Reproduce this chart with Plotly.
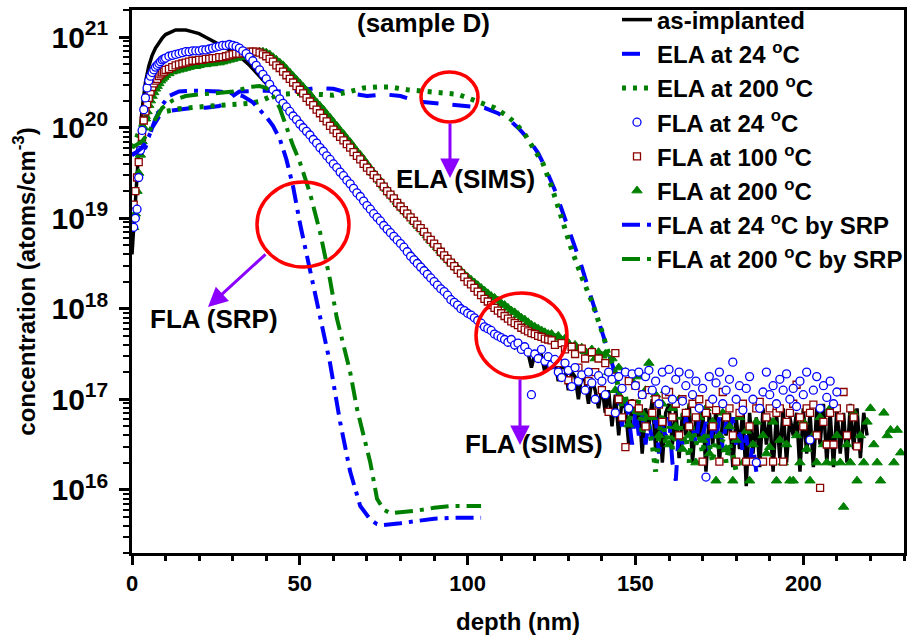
import plotly.graph_objects as go

# ---------------- data (log10 of concentration, atoms/cm^3) ----------------
# as-implanted (SIMS), depth 0..219 nm step 1
asimp_depth = list(range(0, 220))
asimp_log = [18.6, 19.2, 19.75, 20.2, 20.5, 20.68, 20.8, 20.88, 20.94, 20.99,
             21.03, 21.05, 21.07, 21.08, 21.08, 21.08, 21.08, 21.07, 21.06, 21.05,
             21.04, 21.02, 21.0, 20.98, 20.96, 20.94, 20.93, 20.91, 20.89, 20.87,
             20.85, 20.82, 20.79, 20.76, 20.73, 20.69, 20.65, 20.61, 20.57, 20.53,
             20.49, 20.45, 20.41, 20.37, 20.33, 20.29, 20.25, 20.21, 20.17, 20.12,
             20.08, 20.04, 19.99, 19.95, 19.9, 19.86, 19.81, 19.77, 19.72, 19.68,
             19.63, 19.59, 19.54, 19.5, 19.45, 19.41, 19.36, 19.31, 19.27, 19.22,
             19.17, 19.13, 19.08, 19.04, 19.0, 18.95, 18.91, 18.87, 18.83, 18.79,
             18.75, 18.71, 18.66, 18.62, 18.58, 18.54, 18.5, 18.46, 18.42, 18.37,
             18.33, 18.29, 18.26, 18.22, 18.18, 18.14, 18.1, 18.07, 18.03, 18.0,
             17.97, 17.94, 17.91, 17.88, 17.85, 17.82, 17.79, 17.76, 17.73, 17.7,
             17.67, 17.64, 17.6, 17.62, 17.57, 17.59, 17.54, 17.56, 17.51, 17.35,
             17.5, 17.46, 17.48, 17.3, 17.45, 17.4, 17.42, 17.2, 17.38, 17.35,
             17.1, 17.3, 17.25, 17.0, 17.28, 17.2, 16.95, 17.22, 17.1, 16.9,
             17.15, 16.85, 17.1, 16.7, 17.05, 16.6, 17.0, 16.9, 16.5, 17.0,
             16.75, 16.95, 16.4, 16.9, 16.7, 17.0, 16.45, 16.9, 16.3, 16.85,
             16.95, 16.5, 16.9, 16.35, 16.85, 16.6, 16.95, 16.3, 16.8, 16.55,
             16.9, 16.2, 16.85, 16.5, 16.9, 16.3, 16.8, 16.6, 16.85, 16.25,
             16.8, 16.45, 16.9, 16.04, 16.85, 16.4, 16.8, 16.25, 16.9, 16.5,
             16.8, 16.2, 16.85, 16.35, 16.9, 16.3, 16.8, 16.6, 16.85, 16.2,
             16.9, 16.4, 16.85, 16.25, 16.9, 16.5, 16.95, 16.3, 16.85, 16.25,
             16.9, 16.4, 16.85, 16.3, 16.95, 16.45, 16.9, 16.35, 16.85, 16.6]

# ELA at 24 C (SIMS)
ela24_depth = [0, 2, 4, 6, 8, 10, 14, 18, 22, 26, 28, 30, 32, 36, 40, 45, 50, 55, 60, 65,
               70, 75, 80, 85, 90, 95, 100, 105, 109, 112, 115, 118, 121, 123, 126, 129.6,
               133.5, 137, 140.3, 143.3,
               144, 145, 146, 147, 148, 149, 150, 151, 152, 153, 154, 155, 156, 157, 158,
               159, 160, 161, 162, 163, 164, 165, 166, 167, 168, 169, 170, 171, 172, 173,
               174, 175, 176, 177, 178, 179, 180, 181, 182, 183, 184, 185, 186]
ela24_log = [19.7, 19.74, 19.78, 20.0, 20.12, 20.18, 20.2, 20.22, 20.22, 20.24, 20.28,
             20.35, 20.4, 20.41, 20.41, 20.4, 20.41, 20.44, 20.43, 20.38,
             20.35, 20.37, 20.35, 20.29, 20.27, 20.25, 20.23, 20.22, 20.16, 20.1, 20.0,
             19.88, 19.72, 19.57, 19.31, 18.93, 18.52, 18.1, 17.71, 17.36,
             17.2, 17.0, 16.7, 17.0, 16.8, 16.5, 16.9, 16.6, 16.85, 16.5, 16.75, 16.55,
             16.8, 16.4, 16.7, 16.6, 16.8, 16.3, 16.1, 16.7, 16.5, 16.8, 16.6, 16.7,
             16.5, 16.8, 16.6, 16.75, 16.4, 16.7, 16.55, 16.8, 16.45, 16.75, 16.6, 16.8,
             16.5, 16.7, 16.4, 16.6, 16.3, 16.5, 16.2]

# ELA at 200 C (SIMS)
ela200_depth = [0, 1, 2, 3, 4, 6, 10, 14, 20, 25, 30, 35, 38, 41, 44, 47, 50, 55, 60, 65,
                69, 73, 77, 82, 87, 92, 97, 100, 104, 108, 111, 114, 117, 120, 122.5, 125,
                128, 131, 134, 137, 140, 142, 144,
                145, 146, 147, 148, 149, 150, 151, 152, 153, 154, 155, 156, 157, 158, 159,
                160, 161, 162, 163, 164, 165, 166, 167, 168, 169, 170, 171, 172, 173, 174,
                175, 176, 177, 178, 179, 180]
ela200_log = [19.78, 19.85, 19.95, 20.05, 20.1, 20.14, 20.18, 20.21, 20.23, 20.24, 20.25,
              20.27, 20.29, 20.34, 20.37, 20.38, 20.38, 20.37, 20.36, 20.4,
              20.44, 20.45, 20.45, 20.42, 20.4, 20.39, 20.37, 20.33, 20.28, 20.22, 20.15,
              20.06, 19.93, 19.76, 19.6, 19.35, 19.0, 18.65, 18.35, 18.08, 17.75, 17.5,
              17.3,
              17.1, 16.9, 17.05, 16.72, 16.95, 16.8, 17.0, 16.6, 16.85, 16.7, 16.5, 16.2,
              16.6, 16.85, 16.5, 16.7, 16.45, 16.65, 16.8, 16.5, 16.6, 16.3, 16.7, 16.5,
              16.6, 16.4, 16.65, 16.5, 16.3, 16.6, 16.45, 16.55, 16.3, 16.5, 16.4, 16.2]

# FLA (SIMS): depth grid 0.5..10 step 0.5 then 1 nm
surface_depth = [0.5 * i for i in range(1, 21)]
fla24_depth = surface_depth + list(range(11, 211))
fla24_log = [18.9, 19.0, 19.1, 19.45, 19.75, 19.97, 20.2, 20.33, 20.44, 20.52,
             20.57, 20.61, 20.64, 20.67, 20.69, 20.71, 20.73, 20.75, 20.76, 20.77,
             20.79, 20.8, 20.81, 20.82, 20.83, 20.84, 20.84, 20.85, 20.85, 20.85,
             20.86, 20.86, 20.87, 20.88, 20.89, 20.9, 20.91, 20.91, 20.92, 20.91,
             20.9, 20.88, 20.85, 20.82, 20.78, 20.74, 20.69, 20.64, 20.59, 20.54,
             20.48, 20.42, 20.37, 20.32, 20.27, 20.23, 20.18, 20.13, 20.09, 20.04,
             20.0, 19.96, 19.92, 19.87, 19.83, 19.78, 19.74, 19.69, 19.65, 19.6,
             19.56, 19.51, 19.47, 19.42, 19.38, 19.33, 19.28, 19.24, 19.19, 19.14,
             19.1, 19.05, 19.01, 18.97, 18.92, 18.88, 18.84, 18.8, 18.76, 18.72,
             18.68, 18.63, 18.58, 18.54, 18.5, 18.46, 18.42, 18.38, 18.34, 18.3,
             18.26, 18.22, 18.19, 18.15, 18.1, 18.07, 18.04, 18.0, 17.98, 17.95,
             17.93, 17.9, 17.87, 17.84, 17.8, 17.78, 17.76, 17.72, 17.7, 17.68,
             17.66, 17.63, 17.66, 17.6, 17.62, 17.55, 17.58, 17.52, 17.05, 17.5,
             17.45, 17.55, 17.42, 17.47, 17.38, 17.44, 17.3, 17.24, 17.4, 17.32,
             17.14, 17.35, 17.2, 17.27, 17.1, 17.3, 17.18, 17.0, 17.26, 17.2,
             17.05, 17.3, 17.22, 16.85, 17.25, 17.12, 17.3, 16.9, 17.28, 17.15,
             17.3, 17.05, 17.25, 17.32, 17.1, 17.2, 16.95, 17.3, 17.1, 17.33,
             17.0, 17.22, 17.3, 16.98, 17.15, 17.28, 17.05, 17.2, 16.9, 17.12,
             16.14, 17.25, 17.0, 17.18, 17.3, 16.95, 17.1, 17.22, 17.41, 17.0,
             17.15, 16.88, 17.12, 17.25, 17.0, 16.3, 16.9, 17.08, 17.3, 17.05,
             17.15, 16.95, 17.22, 17.1, 17.28, 17.0, 17.12, 16.92, 17.2, 17.05,
             17.3, 16.55, 17.1, 17.25, 16.9, 17.15, 17.02, 17.2, 16.95, 17.08]

fla100_depth = surface_depth + list(range(11, 217))
fla100_log = [19.15, 19.3, 19.45, 19.62, 19.78, 19.9, 20.08, 20.18, 20.26, 20.33,
              20.4, 20.45, 20.49, 20.52, 20.54, 20.57, 20.59, 20.61, 20.62, 20.64,
              20.65, 20.67, 20.69, 20.7, 20.71, 20.72, 20.73, 20.74, 20.74, 20.75,
              20.75, 20.76, 20.76, 20.77, 20.77, 20.78, 20.78, 20.79, 20.8, 20.81,
              20.82, 20.82, 20.83, 20.83, 20.84, 20.84, 20.84, 20.83, 20.81, 20.79,
              20.76, 20.73, 20.69, 20.66, 20.62, 20.58, 20.54, 20.5, 20.46, 20.42,
              20.38, 20.33, 20.29, 20.25, 20.2, 20.16, 20.11, 20.07, 20.02, 19.98,
              19.94, 19.9, 19.86, 19.82, 19.78, 19.73, 19.69, 19.65, 19.6, 19.56,
              19.52, 19.48, 19.44, 19.39, 19.35, 19.3, 19.26, 19.22, 19.17, 19.13,
              19.09, 19.05, 19.01, 18.97, 18.93, 18.89, 18.85, 18.8, 18.76, 18.72,
              18.68, 18.63, 18.59, 18.55, 18.51, 18.47, 18.43, 18.39, 18.35, 18.3,
              18.27, 18.23, 18.19, 18.15, 18.11, 18.08, 18.04, 18.01, 17.98, 17.95,
              17.92, 17.89, 17.86, 17.84, 17.82, 17.79, 17.77, 17.75, 17.73, 17.72,
              17.7, 17.69, 17.67, 17.66, 17.65,
              17.6, 17.4, 17.62, 17.55, 17.21, 17.58, 17.5, 17.35, 17.56, 17.45,
              17.2, 17.52, 17.3, 17.45, 17.1, 17.4, 16.86, 17.25, 17.51, 17.0,
              16.8, 16.47, 17.2, 16.95, 17.15, 16.9, 17.05, 16.7, 17.1, 16.85,
              17.0, 16.94, 16.75, 17.05, 17.08, 16.8, 16.95, 16.6, 17.0, 16.85,
              16.7, 16.95, 16.8, 17.0, 16.31, 16.85, 16.95, 16.7, 16.88, 16.31,
              17.08, 16.8, 16.9, 16.6, 16.31, 16.85, 16.95, 16.31, 16.7, 16.31,
              16.9, 16.97, 16.31, 16.8, 16.9, 16.31, 16.85, 16.9, 16.31, 16.75,
              16.85, 16.95, 17.16, 16.8, 16.7, 16.9, 16.85, 16.94, 16.6, 16.02,
              16.75, 16.5, 16.85, 16.5, 16.9, 16.8, 17.08, 16.6, 16.9, 16.8,
              16.48]

fla200_depth = surface_depth + list(range(11, 230))
fla200_log = [18.9, 19.05, 19.3, 19.5, 19.7, 19.85, 20.0, 20.1, 20.18, 20.25,
              20.3, 20.35, 20.39, 20.43, 20.46, 20.49, 20.52, 20.54, 20.56, 20.58,
              20.6, 20.62, 20.63, 20.64, 20.65, 20.66, 20.67, 20.68, 20.68, 20.69,
              20.7, 20.7, 20.71, 20.71, 20.72, 20.72, 20.73, 20.74, 20.75, 20.76,
              20.77, 20.78, 20.79, 20.8, 20.81, 20.82, 20.83, 20.84, 20.84, 20.83,
              20.81, 20.78, 20.75, 20.72, 20.69, 20.65, 20.61, 20.57, 20.53, 20.49,
              20.45, 20.41, 20.37, 20.32, 20.28, 20.24, 20.2, 20.15, 20.11, 20.06,
              20.02, 19.97, 19.93, 19.88, 19.84, 19.79, 19.74, 19.7, 19.65, 19.6,
              19.55, 19.5, 19.46, 19.41, 19.36, 19.32, 19.27, 19.23, 19.18, 19.14,
              19.1, 19.06, 19.02, 18.97, 18.93, 18.89, 18.85, 18.81, 18.76, 18.72,
              18.68, 18.64, 18.6, 18.56, 18.52, 18.49, 18.45, 18.42, 18.38, 18.35,
              18.32, 18.29, 18.26, 18.23, 18.2, 18.17, 18.14, 18.12, 18.09, 18.06,
              18.04, 18.01, 17.98, 17.96, 17.93, 17.9, 17.88, 17.85, 17.82, 17.8,
              17.78, 17.76, 17.74, 17.72, 17.72, 17.68, 17.7, 17.65, 17.67, 17.62,
              17.58, 17.6, 17.55, 17.57, 17.53, 17.5, 17.55, 17.45, 17.52, 17.48,
              17.5, 17.3, 17.45, 17.1, 17.35, 17.0, 17.3, 16.72, 17.2, 16.9,
              17.25, 16.85, 17.1, 17.4, 16.8, 17.05, 16.6, 16.95, 17.1, 16.5,
              16.9, 16.7, 17.0, 16.45, 16.85, 16.6, 16.95, 16.3, 16.8, 16.55,
              16.9, 16.4, 16.75, 16.1, 16.6, 16.85, 16.45, 16.7, 16.1, 16.55,
              16.8, 16.3, 16.65, 16.1, 16.5, 16.75, 16.3, 16.6, 16.4, 16.47,
              16.75, 16.1, 16.55, 16.3, 16.5, 16.1, 16.1, 16.6, 16.3, 16.75,
              16.45, 16.1, 16.6, 16.3, 16.8, 16.5, 16.3, 16.9, 16.3, 16.6,
              16.3, 15.81, 16.5, 16.3, 16.85, 16.1, 16.6, 16.3, 16.75, 16.9,
              16.5, 16.3, 16.1, 16.85, 16.6, 16.66, 16.3, 16.66, 16.41]

# FLA by SRP
srp24_depth = [0, 1, 3, 5, 7, 9, 11, 14, 18, 22, 26, 30, 33, 36, 38, 40, 42, 44, 46, 48,
               50, 52, 55, 59, 62, 65, 68, 71, 73, 75, 80, 85, 90, 95, 100, 104]
srp24_log = [19.7, 19.72, 19.78, 19.9, 20.1, 20.25, 20.35, 20.4, 20.41, 20.41, 20.4,
             20.38, 20.35, 20.28, 20.2, 20.12, 20.02, 19.88, 19.65, 19.35,
             18.95, 18.6, 18.1, 17.4, 16.75, 16.2, 15.82, 15.67, 15.62, 15.61,
             15.63, 15.66, 15.68, 15.69, 15.69, 15.69]
srp200_depth = [0, 1, 3, 5, 7, 9, 12, 16, 20, 25, 30, 35, 38, 40, 42, 44, 46, 48, 50, 53,
                56, 59, 61, 63, 65, 67, 69, 71, 73, 75, 77, 80, 85, 90, 95, 100, 104]
srp200_log = [19.78, 19.8, 19.85, 19.95, 20.1, 20.22, 20.3, 20.35, 20.37, 20.38, 20.4,
              20.45, 20.46, 20.44, 20.35, 20.22, 20.0, 19.8, 19.62, 19.28,
              18.85, 18.32, 17.9, 17.6, 17.3, 16.9, 16.6, 16.3, 15.9, 15.78,
              15.74, 15.75, 15.77, 15.8, 15.82, 15.82, 15.82]

def conc(logs):
    return [10 ** v for v in logs]

FONT = "Liberation Sans, Arial, sans-serif"
BLUE = "#0000ff"
GREEN = "#008000"
DRED = "#8b0000"
VIOLET = "#8b00ff"

fig = go.Figure()

fig.add_trace(go.Scatter(x=asimp_depth, y=conc(asimp_log), mode="lines",
                         name="as-implanted", line=dict(color="black", width=3.5),
                         legendrank=1, legendgroup="a"))
fig.add_trace(go.Scatter(x=ela24_depth, y=conc(ela24_log), mode="lines",
                         name="ELA at 24 <sup>o</sup>C",
                         line=dict(color=BLUE, width=4, dash="18px,14px"),
                         legendrank=2, legendgroup="b"))
fig.add_trace(go.Scatter(x=ela200_depth, y=conc(ela200_log), mode="lines",
                         name="ELA at 200 <sup>o</sup>C",
                         line=dict(color=GREEN, width=5, dash="4px,7px"),
                         legendrank=3, legendgroup="c"))
fig.add_trace(go.Scatter(x=fla200_depth, y=conc(fla200_log), mode="markers",
                         name="FLA at 200 <sup>o</sup>C",
                         marker=dict(symbol="triangle-up", size=9, color=GREEN,
                                     line=dict(color=GREEN, width=1)),
                         legendrank=6, legendgroup="f"))
fig.add_trace(go.Scatter(x=fla100_depth, y=conc(fla100_log), mode="markers",
                         name="FLA at 100 <sup>o</sup>C",
                         marker=dict(symbol="square", size=7, color="white",
                                     line=dict(color=DRED, width=1.3)),
                         legendrank=5, legendgroup="e"))
fig.add_trace(go.Scatter(x=fla24_depth, y=conc(fla24_log), mode="markers",
                         name="FLA at 24 <sup>o</sup>C",
                         marker=dict(symbol="circle", size=8, color="white",
                                     line=dict(color=BLUE, width=1.3)),
                         legendrank=4, legendgroup="d"))
fig.add_trace(go.Scatter(x=srp24_depth, y=conc(srp24_log), mode="lines",
                         name="FLA at 24 <sup>o</sup>C by SRP",
                         line=dict(color=BLUE, width=4, dash="18px,7px,4px,7px"),
                         legendrank=7, legendgroup="g"))
fig.add_trace(go.Scatter(x=srp200_depth, y=conc(srp200_log), mode="lines",
                         name="FLA at 200 <sup>o</sup>C by SRP",
                         line=dict(color=GREEN, width=4, dash="18px,7px,4px,7px"),
                         legendrank=8, legendgroup="h"))

# plot area in page pixels (body margin removed): left 132, right 904, top 10, bottom 553
PL, PR, PT, PB = 132, 904, 10, 553
W, H = 907, 642

def px(xp):
    return (xp - PL) / float(PR - PL)

def py(yp):
    return (PB - yp) / float(PB - PT)

shapes = []
for (x0, y0, x1, y1) in [(421, 72, 478, 122), (257, 182, 349, 267), (476, 293, 567, 378)]:
    shapes.append(dict(type="circle", xref="paper", yref="paper",
                       x0=px(x0), x1=px(x1), y0=py(y1), y1=py(y0),
                       line=dict(color="red", width=3.5)))

annotations = []
for (hx, hy, tx, ty) in [(450, 178, 450, 122), (208, 307, 267, 253), (520, 445, 520, 378)]:
    annotations.append(dict(xref="paper", yref="paper", x=px(hx), y=py(hy),
                            ax=tx - hx, ay=ty - hy, text="", showarrow=True,
                            arrowhead=2, arrowsize=1.3, arrowwidth=3,
                            arrowcolor=VIOLET))
for (txt, cx, cy) in [("(sample D)", 423, 23), ("ELA (SIMS)", 465, 179),
                      ("FLA (SRP)", 214, 319), ("FLA (SIMS)", 534, 444)]:
    annotations.append(dict(xref="paper", yref="paper", x=px(cx), y=py(cy),
                            text=txt, showarrow=False, xanchor="center", yanchor="middle",
                            font=dict(family=FONT, size=26, color="black", weight="bold")))

fig.update_layout(
    width=W, height=H,
    margin=dict(l=PL, r=W - PR, t=PT, b=H - PB, autoexpand=False),
    paper_bgcolor="white", plot_bgcolor="white",
    font=dict(family=FONT, color="black"),
    showlegend=True,
    hovermode=False,
    legend=dict(x=px(617), y=py(-2.5), xanchor="left", yanchor="top",
                bgcolor="rgba(0,0,0,0)", borderwidth=0,
                font=dict(family=FONT, size=24, color="black", weight="bold"),
                tracegroupgap=0),
    shapes=shapes,
    annotations=annotations,
)

fig.update_xaxes(range=[0, 230], showline=True, linewidth=3, linecolor="black",
                 mirror=True, ticks="outside", ticklen=9, tickwidth=3, tickcolor="black",
                 dtick=50, tick0=0, showgrid=False, zeroline=False,
                 minor=dict(ticks="outside", dtick=10, ticklen=5, tickwidth=2.5,
                            tickcolor="black", showgrid=False),
                 tickfont=dict(family=FONT, size=22, color="black", weight="bold"),
                 title=dict(text="depth (nm)", standoff=18,
                            font=dict(family=FONT, size=24, color="black", weight="bold")))

fig.update_yaxes(type="log", range=[15.30103, 21.30103], showline=True, linewidth=3,
                 linecolor="black", mirror=True, ticks="outside", ticklen=10, tickwidth=3,
                 tickcolor="black", dtick=1, exponentformat="power", showexponent="all",
                 showgrid=False, zeroline=False, ticklabelstandoff=6,
                 minor=dict(ticks="outside", dtick="D1", ticklen=6, tickwidth=2,
                            tickcolor="black", showgrid=False),
                 tickfont=dict(family=FONT, size=24, color="black", weight="bold"),
                 title=dict(text="concentration (atoms/cm<sup>-3</sup>)", standoff=10,
                            font=dict(family=FONT, size=24, color="black", weight="bold")))

fig.write_html("out.html",
               config={"displayModeBar": False},
               post_script="document.body.style.margin='0';document.body.style.overflow='hidden';")
